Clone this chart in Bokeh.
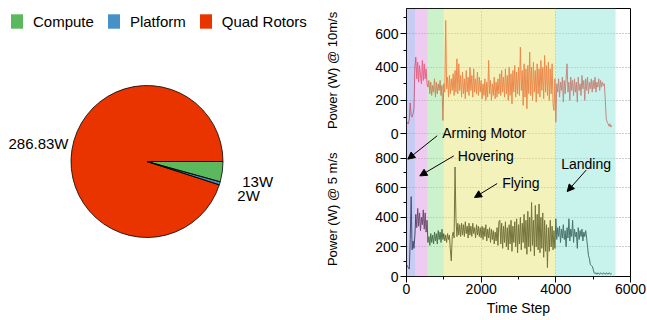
import numpy as np
from bokeh.plotting import figure
from bokeh.layouts import row
from bokeh.models import (Range1d, FixedTicker, BoxAnnotation, Label, Arrow,
                          NormalHead, Legend, LegendItem, ColumnDataSource)
from bokeh.transform import cumsum
from bokeh.core.properties import value
from bokeh.embed import file_html
from bokeh.resources import INLINE

# ---------------- data ----------------
PIE_CATEGORIES = ["Compute", "Platform", "Quad Rotors"]
PIE_WATTS = [13, 2, 286.83]
PIE_LABELS = ["13W", "2W", "286.83W"]

TIME_STEP = 25  # samples every 25 time steps, starting at 0
POWER_10MS = [
    55, 70, 60, 90, 185, 110, 100, 120, 150, 400, 460, 330, 430, 310, 410, 350, 300, 440, 320, 420,
    330, 390, 300, 280, 320, 240, 310, 230, 290, 250, 330, 220, 310, 240, 300, 260, 320, 230, 290, 80,
    300, 250, 680, 270, 340, 220, 350, 240, 330, 260, 360, 230, 380, 250, 450, 240, 420, 260, 350, 220,
    370, 240, 330, 210, 380, 250, 340, 230, 400, 260, 350, 220, 390, 250, 330, 240, 370, 230, 340, 250,
    320, 210, 300, 230, 330, 200, 310, 220, 440, 240, 320, 200, 300, 230, 340, 210, 310, 220, 330, 240,
    360, 230, 380, 250, 340, 220, 390, 240, 350, 200, 400, 230, 360, 180, 380, 250, 410, 220, 370, 240,
    400, 230, 520, 260, 380, 170, 420, 220, 390, 150, 410, 240, 490, 230, 400, 200, 430, 250, 380, 190,
    420, 240, 390, 220, 440, 260, 400, 210, 470, 250, 410, 230, 430, 200, 390, 240, 420, 180, 140, 330,
    70, 300, 250, 330, 220, 310, 260, 340, 190, 320, 240, 330, 420, 250, 310, 200, 340, 260, 320, 230,
    330, 250, 310, 190, 340, 260, 300, 230, 350, 270, 320, 200, 330, 260, 340, 240, 310, 270, 330, 250,
    320, 270, 340, 250, 310, 280, 330, 260, 320, 280, 310, 290, 300, 200, 90, 70, 60, 45, 60, 40,
    50]
POWER_5MS = [
    80, 70, 60, 50, 250, 540, 180, 240, 190, 280, 420, 330, 460, 340, 430, 310, 400, 350, 450, 320,
    430, 300, 380, 230, 270, 210, 290, 230, 280, 220, 300, 240, 290, 220, 310, 250, 300, 230, 320, 250,
    290, 240, 280, 230, 290, 250, 280, 180, 105, 270, 300, 260, 740, 390, 270, 360, 280, 350, 270, 360,
    280, 350, 270, 370, 290, 340, 260, 360, 280, 340, 270, 360, 290, 330, 260, 350, 280, 340, 270, 330,
    260, 340, 250, 330, 270, 350, 240, 320, 260, 330, 230, 320, 250, 310, 220, 300, 240, 330, 210, 370,
    380, 220, 360, 190, 340, 230, 370, 200, 330, 180, 350, 220, 380, 170, 340, 230, 370, 200, 390, 160,
    350, 220, 400, 180, 360, 230, 420, 190, 380, 150, 440, 200, 400, 170, 500, 210, 380, 140, 480, 200,
    420, 180, 490, 160, 400, 190, 430, 130, 380, 170, 350, 60, 330, 170, 380, 200, 340, 180, 310, 190,
    390, 250, 330, 270, 340, 230, 320, 260, 350, 250, 310, 200, 330, 260, 390, 240, 320, 270, 380, 230,
    320, 270, 300, 190, 330, 250, 310, 270, 320, 240, 300, 270, 310, 260, 200, 140, 120, 80, 75, 70,
    50, 25, 20, 25, 15, 25, 20, 15, 25, 20, 15, 25, 20, 15, 25, 20, 15, 25, 20, 15,
    20]

BAND_START = [0, 240, 570, 1000, 4000]
BAND_END = [240, 570, 1000, 4000, 5600]

PHASE_NAMES = ["Arming Motor", "Hovering", "Flying", "Landing"]
PHASE_TEXT_AT = [(956, 969), (1375, 815), (2563, 635), (4143, 763)]
PHASE_ARROW_FROM = [(822, 951), (1267, 815), (2429, 628), (4813, 719)]
PHASE_ARROW_TO = [(35, 793), (357, 680), (1822, 534), (4304, 574)]

Y_TITLES = ["Power (W) @ 10m/s", "Power (W) @ 5 m/s"]
X_TITLE = "Time Step"
X_TICKS = [0, 2000, 4000, 6000]
X_MINOR = [1000, 3000, 5000]
TOP_TICKS = [0, 200, 400, 600]
TOP_MINOR = [100, 300, 500, 700]
BOTTOM_TICKS = [0, 200, 400, 600, 800]
BOTTOM_MINOR = [100, 300, 500, 700]

# ---------------- style / layout ----------------
FONT = "Liberation Sans"
PIE_COLORS = ["#5CB85C", "#4691C8", "#E93400"]
BAND_COLORS = ["#9199E5", "#DD99E5", "#99E599", "#E5E575", "#91E5D9"]
LINE_10MS = "#F12D23"
LINE_5MS = "#000000"

FIG_H = 320
TOP_B, BOT_B = 8, 44
FRAME_H = FIG_H - TOP_B - BOT_B
PIE_W = 318
LAB_W = 24
TS_W = 647 - PIE_W - LAB_W

# ---------------- pie ----------------
p1 = figure(width=PIE_W, height=FIG_H, x_range=Range1d(0, PIE_W), y_range=Range1d(0, FRAME_H),
            output_backend="svg", toolbar_location=None, title=None,
            min_border_left=0, min_border_right=0, min_border_top=TOP_B,
            min_border_bottom=BOT_B, x_axis_location=None, y_axis_location=None)
p1.grid.visible = False
p1.outline_line_color = None

cx, cy, rad = 146.5, 115, 76
total = float(sum(PIE_WATTS))
angles = [-2 * np.pi * w / total for w in PIE_WATTS]
src = ColumnDataSource(dict(category=PIE_CATEGORIES, watts=PIE_WATTS,
                            angle=angles, color=PIE_COLORS))
# filled slices (also used for the legend swatches) ...
fill_r = p1.wedge(x=cx, y=cy, radius=rad, start_angle=cumsum("angle", include_zero=True),
                  end_angle=cumsum("angle"), direction="clock", fill_color="color",
                  line_color=None, source=src)
# ... and their thin black outlines
p1.wedge(x=cx, y=cy, radius=rad, start_angle=cumsum("angle", include_zero=True),
         end_angle=cumsum("angle"), direction="clock", fill_color=None,
         line_color="black", line_width=0.8, source=src)

ends = np.cumsum(angles)
starts = ends - np.array(angles)
LABEL_DIST = [1.28, 1.27, 1.06]
mids = (starts + ends) / 2 + np.deg2rad(-4)
lx = [cx + d * rad * np.cos(m) for d, m in zip(LABEL_DIST, mids)]
ly = [cy + d * rad * np.sin(m) for d, m in zip(LABEL_DIST, mids)]
al = ["left" if np.cos(m) > 0 else "right" for m in mids]
p1.text(x=lx, y=ly, text=PIE_LABELS, text_align=al, text_baseline="middle",
        text_font=value(FONT), text_font_size="15px", text_color="black")

items = [LegendItem(label=cat, renderers=[fill_r], index=i)
         for i, cat in enumerate(PIE_CATEGORIES)]
leg = Legend(items=items, orientation="horizontal", location=(9, 246),
             glyph_width=15, glyph_height=18, label_standoff=9, spacing=12,
             padding=0, margin=0, label_text_font=FONT, label_text_font_size="15px",
             label_text_color="black", border_line_alpha=0, background_fill_alpha=0)
p1.add_layout(leg)

# ---------------- time series ----------------
BOTTOM_END = FRAME_H / 0.148
TOP_START = -142.7 / (100 / 600)
TOP_END = TOP_START + FRAME_H / (100 / 600)

yr = Range1d(0, BOTTOM_END)
yr_top = Range1d(TOP_START, TOP_END)

# narrow figure holding the two vertical axis titles, sharing the y ranges
pl = figure(width=LAB_W, height=FIG_H, x_range=Range1d(0, 1), y_range=yr,
            output_backend="svg", toolbar_location=None, title=None,
            min_border_left=0, min_border_right=0, min_border_top=TOP_B,
            min_border_bottom=BOT_B, x_axis_location=None, y_axis_location=None)
pl.extra_y_ranges = {"top": yr_top}
pl.grid.visible = False
pl.outline_line_color = None
pl.text(x=[0.6], y=[380], text=[Y_TITLES[0]], angle=np.pi / 2, y_range_name="top",
        text_align="center", text_baseline="middle", text_font=value(FONT),
        text_font_size="13px", text_color="black")
pl.text(x=[0.6], y=[454], text=[Y_TITLES[1]], angle=np.pi / 2,
        text_align="center", text_baseline="middle", text_font=value(FONT),
        text_font_size="13px", text_color="black")

p2 = figure(width=TS_W, height=FIG_H, x_range=Range1d(0, 6000), y_range=yr,
            output_backend="svg", toolbar_location=None, title=None,
            min_border_left=406 - PIE_W - LAB_W, min_border_right=17,
            min_border_top=TOP_B, min_border_bottom=BOT_B)
p2.extra_y_ranges = {"top": yr_top}

def top_to_main(v):
    return (v - TOP_START) * BOTTOM_END / (TOP_END - TOP_START)

top_pos = [top_to_main(v) for v in TOP_TICKS]
top_minor_pos = [top_to_main(v) for v in TOP_MINOR]
yt = FixedTicker(ticks=BOTTOM_TICKS + top_pos, minor_ticks=BOTTOM_MINOR + top_minor_pos)
xt = FixedTicker(ticks=X_TICKS, minor_ticks=X_MINOR)
p2.yaxis.ticker = yt
p2.ygrid.ticker = yt
p2.xaxis.ticker = xt
p2.xgrid.ticker = xt
p2.yaxis.major_label_overrides = {pos: str(v) for pos, v in zip(top_pos, TOP_TICKS)}

for ax in (p2.xaxis[0], p2.yaxis[0]):
    ax.axis_line_color = "black"
    ax.major_tick_line_color = "black"
    ax.minor_tick_line_color = "black"
    ax.major_tick_in = 0
    ax.major_tick_out = 6
    ax.minor_tick_in = 0
    ax.minor_tick_out = 3
    ax.major_label_text_font = FONT
    ax.major_label_text_font_size = "14px"
    ax.major_label_text_color = "black"
    ax.axis_label_text_font = FONT
    ax.axis_label_text_font_size = "14px"
    ax.axis_label_text_font_style = "normal"
    ax.axis_label_text_color = "black"
p2.yaxis.major_label_standoff = 2
p2.xaxis.major_label_standoff = 1
p2.xaxis.axis_label = X_TITLE
p2.xaxis.axis_label_standoff = 3

for g in (p2.xgrid[0], p2.ygrid[0]):
    g.grid_line_color = "#999999"
    g.grid_line_dash = "1 2"
    g.grid_line_width = 1
p2.outline_line_color = "black"
p2.outline_line_alpha = 1
p2.outline_line_width = 1

t = np.arange(len(POWER_10MS)) * TIME_STEP
p2.line(t, POWER_10MS, y_range_name="top", line_color=LINE_10MS, line_width=1)
p2.line(t, POWER_5MS, line_color=LINE_5MS, line_width=1)

for s, e, c in zip(BAND_START, BAND_END, BAND_COLORS):
    p2.add_layout(BoxAnnotation(left=s, right=e, fill_color=c, fill_alpha=0.5,
                                line_color=None))

for name, (tx, ty), (ax0, ay0), (ax1, ay1) in zip(PHASE_NAMES, PHASE_TEXT_AT,
                                                   PHASE_ARROW_FROM, PHASE_ARROW_TO):
    p2.add_layout(Label(x=tx, y=ty, text=name, text_align="left", text_baseline="middle",
                        text_font=FONT, text_font_size="14px", text_color="black"))
    p2.add_layout(Arrow(x_start=ax0, y_start=ay0, x_end=ax1, y_end=ay1,
                        line_color="black", line_width=1,
                        end=NormalHead(size=7, fill_color="black", line_color="black",
                                       line_width=1)))

layout = row(p1, pl, p2)
open("out.html", "w").write(file_html(layout, INLINE))
